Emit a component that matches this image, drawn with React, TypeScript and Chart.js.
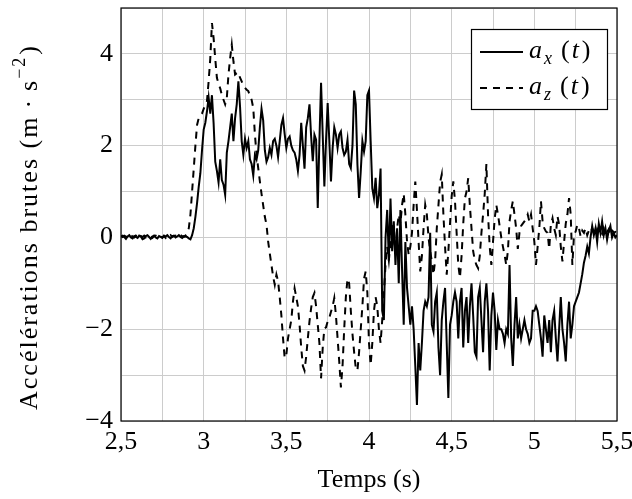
import React, { useEffect, useRef } from "react";
import { Chart, registerables } from "chart.js";

Chart.register(...registerables);

// ---- data (sampled every 0.01 s from 2.50 s to 5.50 s) ----
const T_START = 2.5;
const T_STEP = 0.01;

const AX_VALUES: number[] = [
  // 2.50 - 2.59
  0.02, 0.04, 0.01, -0.03, 0.02, 0.05, 0.0, -0.02, 0.03, 0.01,
  // 2.60
  -0.01, 0.04, 0.02, -0.04, -0.02, 0.03, 0.05, 0.01, -0.03, 0.02,
  // 2.70
  0.04, 0.0, -0.02, 0.03, 0.01, -0.01, 0.04, 0.02, 0.05, 0.01,
  // 2.80
  -0.02, 0.03, 0.04, 0.0, 0.02, 0.05, 0.01, -0.01, 0.03, 0.02,
  // 2.90
  0.01, -0.02, -0.04, 0.05, 0.2, 0.45, 0.75, 1.1, 1.4, 1.9,
  // 3.00
  2.35, 2.5, 2.75, 3.05, 2.7, 3.1, 2.5, 1.65, 1.45, 1.2,
  // 3.10
  1.7, 1.25, 1.15, 0.93, 1.85, 2.1, 2.4, 2.7, 2.1, 2.6,
  // 3.20
  2.9, 3.4, 2.85, 2.1, 1.8, 2.15, 1.95, 2.1, 1.7, 1.6,
  // 3.30
  1.35, 1.8, 1.7, 1.9, 2.4, 2.8, 2.55, 1.9, 1.65, 1.75,
  // 3.40
  1.95, 1.8, 2.1, 2.15, 2.0, 1.75, 2.1, 2.45, 2.6, 2.25,
  // 3.50
  1.95, 2.15, 2.2, 2.0, 1.9, 1.85, 1.7, 1.45, 1.8, 2.5,
  // 3.60
  2.0, 1.5, 2.4, 2.6, 2.9, 2.2, 1.66, 2.24, 2.13, 0.64,
  // 3.70
  2.1, 3.37, 2.24, 1.11, 2.1, 2.93, 2.1, 1.22, 1.95, 2.4,
  // 3.80
  2.24, 1.95, 2.24, 2.31, 1.95, 1.8, 1.87, 2.13, 1.6, 1.51,
  // 3.90
  2.0, 3.2, 2.9, 1.59, 0.86, 1.44, 2.1, 1.87, 2.1, 3.1,
  // 4.00
  3.2, 2.1, 1.07, 0.86, 1.3, 0.64, 0.93, 1.5, -1.6, -1.8,
  // 4.10
  0.0, 0.6, -0.5, 0.85, -0.3, 0.35, -0.6, 0.2, -1.0, 0.6,
  // 4.20
  -0.7, -1.9, -0.1, -1.1, -1.5, -1.9, -1.5, -2.0, -2.8, -3.65,
  // 4.30
  -2.3, -2.9, -2.3, -1.6, -1.4, -1.5, -1.3, 0.1, -1.9, -2.05,
  // 4.40
  -1.4, -1.2, -2.4, -3.0, -1.8, -1.4, -1.1, -2.3, -3.5, -1.9,
  // 4.50
  -1.7, -1.4, -1.2, -1.4, -2.2, -1.4, -1.1, -2.4, -1.6, -1.3,
  // 4.60
  -2.3, -1.5, -1.0, -1.7, -2.5, -2.6, -1.3, -1.1, -1.8, -2.5,
  // 4.70
  -1.4, -1.0, -1.6, -2.9, -1.7, -1.2, -1.6, -2.45, -1.8, -2.0,
  // 4.80
  -2.0, -2.1, -2.3, -2.0, -2.1, -0.6, -2.2, -2.8, -1.9, -1.3,
  // 4.90
  -2.2, -1.9, -2.2, -2.0, -1.8, -2.0, -2.1, -2.3, -2.2, -1.6,
  // 5.00
  -1.6, -1.5, -1.6, -1.9, -2.2, -2.6, -1.7, -2.0, -2.3, -1.8,
  // 5.10
  -2.5, -1.8, -1.6, -2.2, -2.7, -2.0, -1.3, -2.0, -2.3, -2.7,
  // 5.20
  -1.9, -1.4, -2.2, -1.9, -1.5, -1.4, -1.3, -1.2, -1.0, -0.8,
  // 5.30
  -0.55, -0.4, -0.2, -0.35, 0.0, 0.25, 0.05, 0.2, -0.1, 0.3,
  // 5.40
  0.1, 0.35, 0.05, 0.2, -0.05, 0.15, 0.25, 0.0, 0.1, 0.0,
  // 5.50
  0.05,
];

const AZ_VALUES: number[] = [
  // 2.50
  0.03, 0.01, 0.04, 0.02, -0.01, 0.03, 0.05, 0.02, 0.0, 0.04,
  // 2.60
  0.02, -0.02, 0.03, 0.01, 0.04, 0.0, 0.03, 0.05, 0.02, -0.01,
  // 2.70
  0.03, 0.04, 0.01, 0.05, 0.02, 0.0, 0.03, -0.01, 0.04, 0.02,
  // 2.80
  0.05, 0.01, 0.03, 0.04, 0.0, 0.02, 0.05, 0.03, 0.01, 0.04,
  // 2.90
  0.08, 0.2, 0.5, 1.0, 1.5, 2.0, 2.45, 2.6, 2.65, 2.7,
  // 3.00
  2.8, 2.9, 2.97, 3.4, 3.9, 4.67, 4.35, 3.9, 3.48, 3.35,
  // 3.10
  3.25, 3.1, 3.0, 2.9, 3.04, 3.55, 3.9, 4.2, 3.84, 3.55,
  // 3.20
  3.58, 3.6, 3.48, 3.4, 3.3, 3.26, 3.22, 3.19, 3.08, 3.0,
  // 3.30
  2.82, 2.24, 1.8, 1.51, 1.22, 0.95, 0.7, 0.45, 0.28, -0.09,
  // 3.40
  -0.35, -0.6, -0.85, -1.03, -0.81, -0.95, -1.3, -1.7, -2.2, -2.63,
  // 3.50
  -2.56, -2.2, -2.0, -1.8, -1.4, -1.11, -1.3, -1.5, -1.9, -2.4,
  // 3.60
  -2.8, -2.9, -2.6, -2.2, -1.83, -1.54, -1.3, -1.21, -1.5, -1.9,
  // 3.70
  -2.3, -3.07, -2.41, -1.98, -1.96, -1.83, -1.75, -1.62, -1.5, -1.32,
  // 3.80
  -1.7, -2.2, -2.7, -3.27, -2.8, -2.0, -1.3, -0.9, -1.0, -1.6,
  // 3.90
  -2.1, -2.5, -2.85, -2.9, -2.5, -2.0, -1.5, -0.9, -0.74, -1.2,
  // 4.00
  -2.3, -2.78, -2.3, -1.6, -1.3, -1.5, -2.0, -2.3, -1.8, -1.2,
  // 4.10
  -0.6, -0.2, -0.5, -0.1, 0.3, 0.0, -0.3, 0.2, 0.5, 0.3,
  // 4.20
  0.71, 0.95, 0.5, -0.09, -0.38, -0.2, 0.1, 0.71, 1.22, 0.6,
  // 4.30
  -0.1, -0.74, -0.4, 0.2, 0.71, 0.5, 0.0, -0.3, -0.52, -0.81,
  // 4.40
  -0.5, 0.2, 0.7, 1.2, 1.37, 0.5, -0.2, -0.81, -0.3, 0.3,
  // 4.50
  0.9, 1.22, 0.8, 0.1, -0.6, -0.88, -0.4, 0.3, 0.85, 1.0,
  // 4.60
  1.29, 0.7, 0.2, -0.3, -0.5, -0.6, -0.67, -0.4, 0.1, 0.5,
  // 4.70
  0.95, 1.6, 0.5, -0.2, -0.6, -0.1, 0.4, 0.71, 0.5, 0.25,
  // 4.80
  0.0, -0.2, -0.38, -0.6, -0.3, 0.35, 0.6, 0.79, 0.5, 0.2,
  // 4.90
  -0.25, 0.1, 0.25, 0.3, 0.35, 0.4, 0.5, 0.35, 0.5, 0.2,
  // 5.00
  -0.09, -0.6, -0.2, 0.2, 0.79, 0.35, 0.2, 0.13, 0.1, -0.25,
  // 5.10
  0.28, 0.42, 0.2, 0.05, 0.46, 0.28, -0.2, -0.52, -0.1, 0.3,
  // 5.20
  0.5, 0.86, 0.5, -0.6, 0.06, 0.13, 0.28, 0.2, 0.02, 0.15,
  // 5.30
  0.1, 0.2, 0.05, 0.15, 0.1, 0.2, 0.12, 0.05, 0.18, 0.1,
  // 5.40
  0.15, 0.08, 0.2, 0.1, 0.12, 0.18, 0.05, 0.15, 0.1, 0.12,
  // 5.50
  0.1,
];

const SERIES_SYMBOL = ["a", "a"];
const SERIES_SUB = ["x", "z"];
const X_TITLE = "Temps (s)";
const Y_TITLE_MAIN = "Accélérations brutes (m";
const Y_TITLE_UNIT = "s";
const Y_TITLE_EXP = "−2";
const X_MIN = 2.5;
const X_MAX = 5.5;
const Y_MIN = -4;
const Y_MAX = 5;

const SERIF = '"Liberation Serif", "DejaVu Serif", serif';

const toPoints = (vals: number[]) =>
  vals.map((v, i) => ({ x: +(T_START + i * T_STEP).toFixed(2), y: v }));

const fmtNum = (v: number) => {
  const s = String(Math.abs(v)).replace(".", ",");
  return v < 0 ? "−" + s : s;
};

const decorPlugin = {
  id: "decor",
  afterDraw(chart: any) {
    const { ctx, chartArea: a } = chart;
    ctx.save();
    // frame
    ctx.strokeStyle = "#000";
    ctx.lineWidth = 1.2;
    ctx.setLineDash([]);
    ctx.strokeRect(a.left, a.top, a.right - a.left, a.bottom - a.top);

    // legend box
    const bw = 136;
    const bh = 80;
    const bx = a.right - 10 - bw;
    const by = a.top + 21;
    ctx.fillStyle = "#fff";
    ctx.fillRect(bx, by, bw, bh);
    ctx.lineWidth = 1.2;
    ctx.strokeRect(bx + 0.5, by + 0.5, bw, bh);
    const dashes = [[], [7, 6]];
    for (let i = 0; i < 2; i++) {
      const cy = by + 23 + i * 36;
      ctx.beginPath();
      ctx.setLineDash(dashes[i]);
      ctx.lineWidth = 2;
      ctx.strokeStyle = "#000";
      ctx.moveTo(bx + 9, cy);
      ctx.lineTo(bx + 52, cy);
      ctx.stroke();
      ctx.setLineDash([]);
      ctx.fillStyle = "#000";
      ctx.textBaseline = "alphabetic";
      ctx.textAlign = "left";
      const base = cy + 6;
      let x = bx + 58;
      ctx.font = `italic 26px ${SERIF}`;
      ctx.fillText(SERIES_SYMBOL[i], x, base);
      x += ctx.measureText(SERIES_SYMBOL[i]).width + 2;
      ctx.font = `italic 18px ${SERIF}`;
      ctx.fillText(SERIES_SUB[i], x, base + 6);
      x += ctx.measureText(SERIES_SUB[i]).width + 9;
      ctx.font = `26px ${SERIF}`;
      ctx.fillText("(", x, base);
      x += ctx.measureText("(").width + 2;
      ctx.font = `italic 26px ${SERIF}`;
      ctx.fillText("t", x, base);
      x += ctx.measureText("t").width + 3;
      ctx.font = `26px ${SERIF}`;
      ctx.fillText(")", x, base);
    }

    // x title
    ctx.font = `26px ${SERIF}`;
    ctx.textAlign = "center";
    ctx.textBaseline = "middle";
    ctx.fillText(X_TITLE, (a.left + a.right) / 2, 480);

    // y title (rotated)
    ctx.translate(30, 227);
    ctx.rotate(-Math.PI / 2);
    ctx.textAlign = "left";
    ctx.textBaseline = "middle";
    (ctx as any).letterSpacing = "2px";
    const big = `26px ${SERIF}`;
    const small = `18px ${SERIF}`;
    const segs: [string, string, number, number][] = [
      [Y_TITLE_MAIN, big, 0, 7],
      ["·", big, 0, 7],
      [Y_TITLE_UNIT, big, 0, 0],
      [Y_TITLE_EXP, small, -10, 1],
      [")", big, 0, 0],
    ];
    let total = 0;
    for (const [t, f, , gap] of segs) {
      ctx.font = f;
      total += ctx.measureText(t).width + gap;
    }
    let x = -total / 2;
    for (const [t, f, dy, gap] of segs) {
      ctx.font = f;
      ctx.fillText(t, x, dy);
      x += ctx.measureText(t).width + gap;
    }
    ctx.restore();
  },
};

export default function App() {
  const ref = useRef<HTMLCanvasElement | null>(null);
  useEffect(() => {
    if (!ref.current) return;
    const chart = new Chart(ref.current, {
      type: "line",
      data: {
        datasets: [
          {
            label: "a_x(t)",
            data: toPoints(AX_VALUES),
            borderColor: "#000",
            borderWidth: 2,
            pointRadius: 0,
            tension: 0,
            fill: false,
          },
          {
            label: "a_z(t)",
            data: toPoints(AZ_VALUES),
            borderColor: "#000",
            borderWidth: 2,
            borderDash: [7, 6],
            pointRadius: 0,
            tension: 0,
            fill: false,
          },
        ],
      },
      options: {
        responsive: false,
        animation: false,
        events: [],
        layout: { padding: { top: 8, right: 15, left: 0, bottom: 0 } },
        plugins: { legend: { display: false }, tooltip: { enabled: false } },
        scales: {
          x: {
            type: "linear",
            min: X_MIN,
            max: X_MAX,
            border: { display: false },
            grid: { color: "#cccccc", lineWidth: 1, drawTicks: false },
            ticks: {
              stepSize: 0.25,
              autoSkip: false,
              maxRotation: 0,
              padding: 6,
              color: "#000",
              font: { family: SERIF, size: 26 },
              callback: (v: any) => {
                const n = Number(v);
                return Math.abs(n * 2 - Math.round(n * 2)) < 1e-6 ? fmtNum(n) : "";
              },
            },
            afterFit: (s: any) => {
              s.height = 78;
              s.paddingLeft = 0;
              s.paddingRight = 0;
            },
          },
          y: {
            min: Y_MIN,
            max: Y_MAX,
            border: { display: false },
            grid: { color: "#cccccc", lineWidth: 1, drawTicks: false },
            ticks: {
              stepSize: 1,
              autoSkip: false,
              padding: 8,
              color: "#000",
              font: { family: SERIF, size: 26 },
              callback: (v: any) => {
                const n = Number(v);
                return n % 2 === 0 ? fmtNum(n) : "";
              },
            },
            afterFit: (s: any) => {
              s.width = 121;
              s.paddingTop = 0;
              s.paddingBottom = 0;
            },
          },
        },
      },
      plugins: [decorPlugin],
    });
    return () => chart.destroy();
  }, []);
  return (
    <div style={{ position: "fixed", left: 0, top: 0, width: 632, height: 499, background: "#fff" }}>
      <canvas ref={ref} width={632} height={499} style={{ display: "block" }} />
    </div>
  );
}
